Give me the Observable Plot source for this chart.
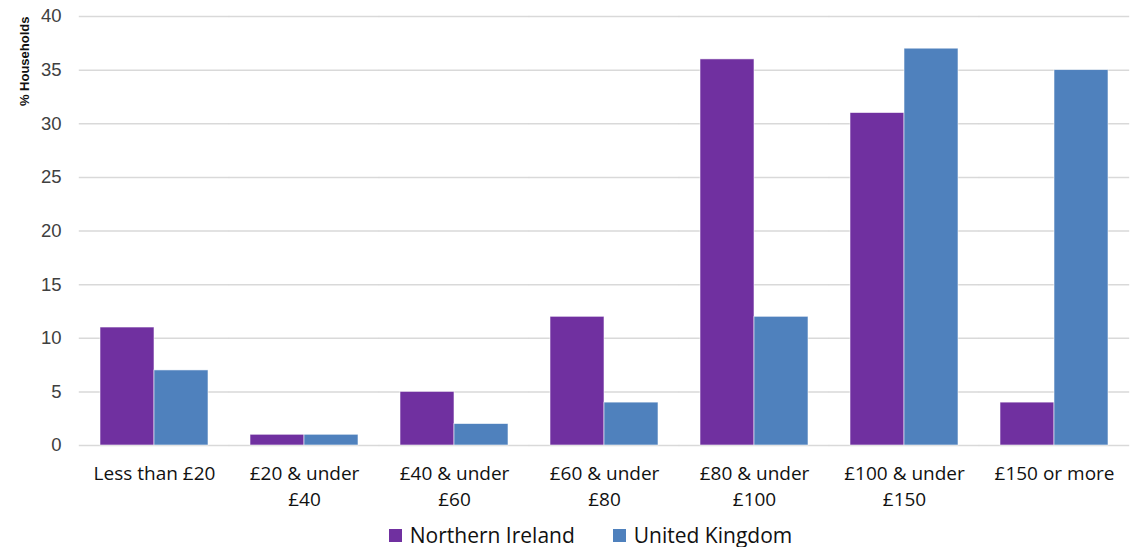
<!DOCTYPE html>
<html>
<head>
<meta charset="utf-8">
<script src="https://cdn.jsdelivr.net/npm/d3@7"></script>
<script src="https://cdn.jsdelivr.net/npm/@observablehq/plot@0.6"></script>
<style>
  body { margin: 0; background: #fff; }
  #legend { display: flex; justify-content: center; align-items: center; gap: 38px; height: 40px; font-family: "Open Sans", "Liberation Sans", sans-serif; font-size: 21px; color: #111; padding-left: 46px; }
  #legend span.sw { display: inline-block; width: 13px; height: 13px; margin-right: 8px; }
  #legend .item { display: flex; align-items: center; }
</style>
</head>
<body>
<div id="chart"></div>
<div id="legend"></div>
<script>
const categories = ["Less than £20", "£20 & under\n£40", "£40 & under\n£60", "£60 & under\n£80", "£80 & under\n£100", "£100 & under\n£150", "£150 or more"];
const series = ["Northern Ireland", "United Kingdom"];
const northernIreland = [11, 1, 5, 12, 36, 31, 4];
const unitedKingdom = [7, 1, 2, 4, 12, 37, 35];
const colors = ["#7030A0", "#4F81BD"];
const yTicks = [0, 5, 10, 15, 20, 25, 30, 35, 40];

const data = [];
categories.forEach((c, i) => {
  data.push({category: c, series: series[0], value: northernIreland[i]});
  data.push({category: c, series: series[1], value: unitedKingdom[i]});
});

const chart = Plot.plot({
  width: 1135,
  height: 515,
  marginLeft: 78,
  marginRight: 5,
  marginTop: 16,
  marginBottom: 70,
  style: {fontFamily: "Liberation Sans, Arial, sans-serif", background: "#fff"},
  fx: {domain: categories, paddingInner: 0.28, paddingOuter: 0.14, label: null},
  x: {domain: series, padding: 0, axis: null},
  y: {domain: [0, 40], label: null},
  color: {domain: series, range: colors},
  marks: [
    Plot.ruleY(yTicks, {stroke: "#d9d9d9", strokeWidth: 1.5, insetLeft: -21.2, insetRight: -21.2}),
    Plot.barY(data, {fx: "category", x: "series", y: "value", fill: "series", stroke: "#ffffff", strokeWidth: 0.8, strokeOpacity: 0.7}),
    Plot.axisY(yTicks, {tickSize: 0, tickPadding: 39, fontSize: 18.5, fill: "#404040", label: null}),
    Plot.axisFx({anchor: "bottom", tickSize: 0, tickPadding: 16, fontSize: 19, lineHeight: 1.37, fontFamily: "Open Sans, Liberation Sans, sans-serif", fill: "#111", label: null}),
    Plot.text([{fx: categories[0], label: "% Households"}], {fx: "fx", text: "label", frameAnchor: "top-left", textAnchor: "end", rotate: -90, dx: -81, dy: 0, fontSize: 13, fontWeight: "bold", fill: "#111"})
  ]
});
document.getElementById("chart").appendChild(chart);

const legend = document.getElementById("legend");
series.forEach((s, i) => {
  const item = document.createElement("div");
  item.className = "item";
  const sw = document.createElement("span");
  sw.className = "sw";
  sw.style.background = colors[i];
  item.appendChild(sw);
  item.appendChild(document.createTextNode(s));
  legend.appendChild(item);
});
</script>
</body>
</html>
